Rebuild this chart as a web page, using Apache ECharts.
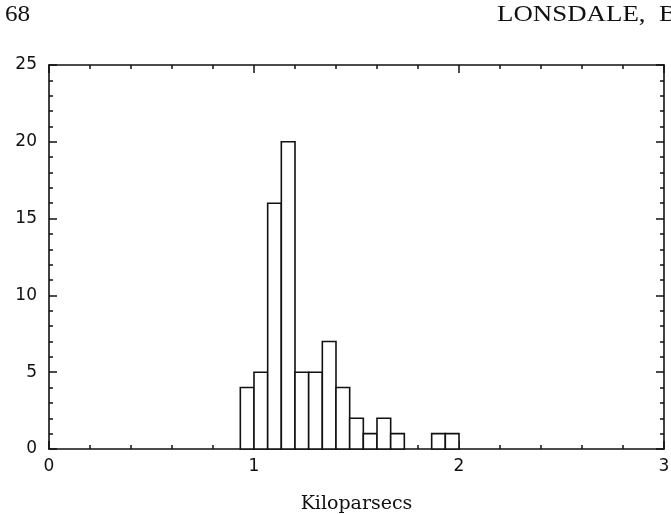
<!DOCTYPE html>
<html>
<head>
<meta charset="utf-8">
<script src="https://cdn.jsdelivr.net/npm/echarts@6/dist/echarts.min.js"></script>
<style>
  html, body { margin: 0; padding: 0; background: #fff; }
  #chart { width: 671px; height: 514px; }
</style>
</head>
<body>
<div id="chart"></div>
<script>
// histogram bins (kpc), width 1/15
const binLeft = [0.9333, 1.0, 1.0667, 1.1333, 1.2, 1.2667, 1.3333, 1.4, 1.4667, 1.5333, 1.6, 1.6667, 1.7333, 1.8, 1.8667, 1.9333];
const binRight = [1.0, 1.0667, 1.1333, 1.2, 1.2667, 1.3333, 1.4, 1.4667, 1.5333, 1.6, 1.6667, 1.7333, 1.8, 1.8667, 1.9333, 2.0];
const counts = [4, 5, 16, 20, 5, 5, 7, 4, 2, 1, 2, 1, 0, 0, 1, 1];

const xRange = [0, 3];
const yRange = [0, 25];
const xLabel = "Kiloparsecs";
const pageNumber = "68";
const runningHead = "LONSDALE,  B";

const font = "'DejaVu Sans', sans-serif";
const ink = "#111";

const chart = echarts.init(document.getElementById("chart"), null, { renderer: "canvas" });

const baseX = {
  type: "value",
  min: xRange[0],
  max: xRange[1],
  interval: 1,
  axisLine: { show: true, onZero: false, lineStyle: { color: ink, width: 1.6 } },
  axisTick: { show: true, inside: true, length: 8, lineStyle: { color: ink, width: 1.5 } },
  minorTick: { show: true, splitNumber: 5, length: 4, lineStyle: { color: ink, width: 1.5 } },
  splitLine: { show: false },
};

const baseY = {
  type: "value",
  min: yRange[0],
  max: yRange[1],
  interval: 5,
  axisLine: { show: true, onZero: false, lineStyle: { color: ink, width: 1.6 } },
  axisTick: { show: true, inside: true, length: 8, lineStyle: { color: ink, width: 1.5 } },
  minorTick: { show: true, splitNumber: 5, length: 4, lineStyle: { color: ink, width: 1.5 } },
  splitLine: { show: false },
};

const data = counts.map((c, i) => [binLeft[i], binRight[i], c]);

chart.setOption({
  animation: false,
  backgroundColor: "#fff",
  grid: { left: 49, right: 7, top: 65, bottom: 65, containLabel: false, outerBoundsMode: "none" },
  xAxis: [
    {
      ...baseX,
      position: "bottom",
      axisLabel: { color: ink, fontSize: 17, fontFamily: font, margin: 9 },
      name: xLabel,
      nameLocation: "middle",
      nameGap: 46,
      nameTextStyle: { color: ink, fontSize: 19, fontFamily: "'DejaVu Serif', serif" },
    },
    { ...baseX, position: "top", axisLabel: { show: false } },
  ],
  yAxis: [
    {
      ...baseY,
      position: "left",
      axisLabel: { color: ink, fontSize: 17, fontFamily: font, margin: 12 },
    },
    { ...baseY, position: "right", axisLabel: { show: false } },
  ],
  graphic: [
    {
      type: "text",
      x: 5,
      y: 3,
      scaleX: 1.05,
      style: { text: pageNumber, font: "24px 'Liberation Serif', serif", fill: ink },
    },
    {
      type: "text",
      x: 497,
      y: 3,
      scaleX: 1.12,
      style: { text: runningHead, font: "24px 'Liberation Serif', serif", fill: ink },
    },
  ],
  series: [
    {
      type: "custom",
      xAxisIndex: 0,
      yAxisIndex: 0,
      data,
      renderItem: (params, api) => {
        if (api.value(2) <= 0) return null;
        const p0 = api.coord([api.value(0), api.value(2)]);
        const p1 = api.coord([api.value(1), 0]);
        return {
          type: "rect",
          shape: { x: p0[0], y: p0[1], width: p1[0] - p0[0], height: p1[1] - p0[1] },
          style: { fill: "#fff", stroke: ink, lineWidth: 1.6 },
        };
      },
    },
  ],
});
</script>
</body>
</html>
